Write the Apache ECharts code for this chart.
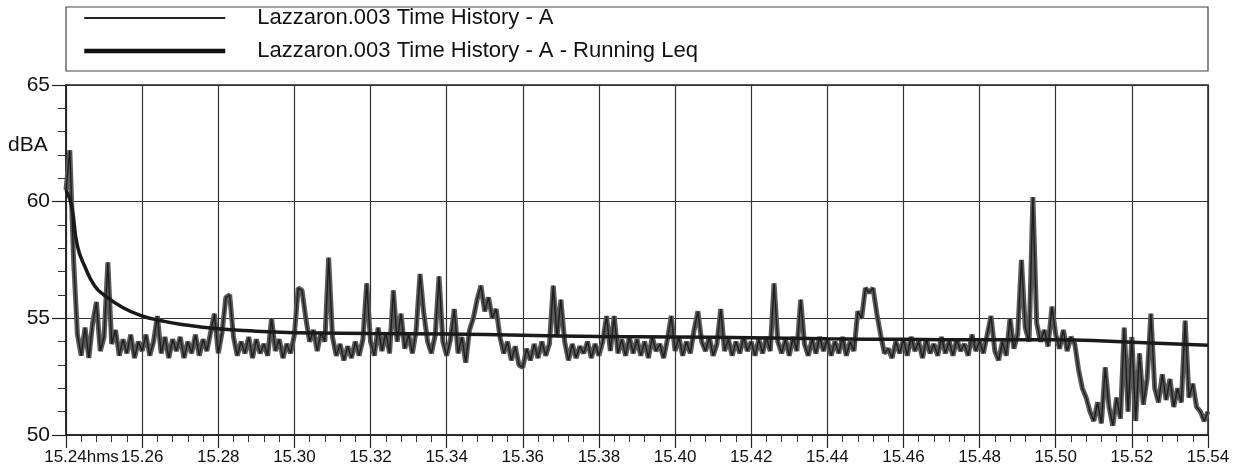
<!DOCTYPE html>
<html>
<head>
<meta charset="utf-8">
<script src="https://cdn.jsdelivr.net/npm/echarts@6/dist/echarts.min.js"></script>
<style>
  html, body { margin: 0; padding: 0; background: #fff; }
  #main { width: 1237px; height: 471px; }
</style>
</head>
<body>
<div id="main"></div>
<script>
// minutes after 15.24, one reading every 0.1 min
var histStep = 0.1;
var histValues = [
  60.5, 62.2, 57.5, 54.3, 53.4, 54.6, 53.3, 54.8, 55.7, 53.6,
  54.2, 57.4, 53.9, 54.5, 53.4, 54.1, 53.5, 54.3, 53.3, 54.0,
  53.6, 54.3, 53.4, 54.0, 55.1, 53.5, 54.2, 53.3, 54.1, 53.6,
  54.2, 53.3, 54.0, 53.5, 54.3, 53.4, 54.1, 53.6, 54.4, 55.2,
  53.5, 54.4, 55.9, 56.0, 54.2, 53.4, 54.0, 53.5, 54.2, 53.3,
  54.1, 53.5, 53.9, 53.4, 55.0, 53.6, 54.1, 53.3, 53.9, 53.5,
  54.3, 56.3, 56.2, 55.0, 54.0, 54.5, 53.6, 54.4, 54.0, 57.6,
  54.2, 53.4, 53.9, 53.2, 53.8, 53.3, 54.0, 53.4, 54.1, 56.5,
  54.0, 53.4, 54.6, 53.6, 54.4, 53.5, 56.2, 54.0, 55.2, 53.7,
  54.3, 53.5, 54.5, 56.9, 55.2, 54.0, 53.5, 54.3, 56.8, 54.0,
  53.4, 54.1, 55.4, 53.5, 54.2, 53.1, 54.5, 55.0, 55.8, 56.4,
  55.3, 55.9, 55.0, 55.4, 54.2, 53.5, 54.0, 53.2, 53.8, 53.0,
  52.9, 53.7, 53.2, 53.9, 53.3, 54.0, 53.4, 53.9, 56.4, 54.2,
  55.8, 54.0, 53.2, 53.9, 53.3, 53.8, 53.5, 54.0, 53.3, 53.9,
  53.4, 54.0, 55.1, 53.6, 55.1, 53.5, 54.1, 53.4, 54.2, 53.5,
  54.1, 53.4, 54.0, 53.3, 54.2, 53.6, 53.9, 53.3, 54.1, 55.1,
  53.6, 54.2, 53.4, 54.0, 53.5, 54.5, 55.3, 54.0, 53.6, 54.2,
  53.4, 53.9, 55.4, 53.6, 54.1, 53.4, 54.0, 53.5, 54.2, 53.6,
  54.0, 53.4, 54.1, 53.5, 54.2, 53.6, 56.5, 54.0, 53.5, 54.1,
  53.4, 54.2, 53.6, 55.8, 53.9, 53.4, 54.1, 53.5, 54.2, 53.6,
  54.1, 53.4, 54.0, 53.5, 54.2, 53.4, 54.0, 53.6, 55.3, 55.0,
  56.3, 56.1, 56.3, 55.2, 54.3, 53.5, 53.7, 53.3, 54.0, 53.5,
  54.1, 53.4, 54.2, 53.6, 54.0, 53.3, 54.1, 53.5, 53.9, 53.4,
  54.2, 53.5, 54.0, 53.4, 54.1, 53.6, 53.9, 53.4, 54.3, 53.6,
  54.0, 53.5, 54.3, 55.1, 53.6, 53.2, 54.0, 53.4, 55.0, 53.7,
  54.3, 57.5, 54.6, 54.0, 60.2, 54.8, 54.0, 54.5, 53.8, 55.5,
  54.3, 53.7, 54.5, 53.6, 54.2, 53.9, 52.8, 52.0, 51.6, 51.0,
  50.6, 51.4, 50.5, 52.9, 51.2, 50.4, 51.6, 50.7, 54.6, 51.0,
  54.2, 50.6, 53.5, 51.3, 52.4, 55.2, 52.0, 51.4, 52.6, 51.5,
  52.4, 51.2, 52.0, 51.4, 54.9, 51.6, 52.2, 51.2, 51.0, 50.6,
  51.0
];

// running Leq, read at a few times (minutes after 15.24)
var leqTimes  = [0, 0.15, 0.3, 0.5, 0.75, 1, 1.5, 2, 2.5, 3, 4, 5, 6, 8, 10, 12, 14, 16, 18, 20, 22, 24, 26, 26.5, 28, 30];
var leqValues = [60.5, 59.8, 58.1, 57.2, 56.4, 56.0, 55.45, 55.1, 54.9, 54.75, 54.55, 54.45, 54.38, 54.35, 54.33, 54.28, 54.22, 54.2, 54.17, 54.12, 54.1, 54.08, 54.08, 54.07, 53.98, 53.85];

var seriesNames = ['Lazzaron.003 Time History - A', 'Lazzaron.003 Time History - A - Running Leq'];
var startHour = 15, startMinute = 24;

var histData = histValues.map(function (v, i) { return [i * histStep, v]; });
var leqData = leqTimes.map(function (t, i) { return [t, leqValues[i]]; });

function timeLabel(v) {
    var m = Math.round(startMinute + v);
    var s = startHour + '.' + (m < 10 ? '0' + m : m);
    // first label carries the unit, the time itself stays centred on the tick
    if (v === 0) return '{pad| }' + s + 'hms';
    return s;
}

var myChart = echarts.init(document.getElementById('main'));
var font = '"Liberation Sans", Arial, sans-serif';

var option = {
    animation: false,
    backgroundColor: '#fff',
    textStyle: { fontFamily: font },
    graphic: [
        {
            type: 'rect',
            shape: { x: 66, y: 7, width: 1142, height: 64 },
            style: { fill: 'none', stroke: '#444', lineWidth: 1.2 },
            z: 1
        },
        {
            type: 'text',
            left: 8,
            top: 135,
            style: { text: 'dBA', font: '21px ' + font, fill: '#111' }
        }
    ],
    legend: {
        orient: 'vertical',
        left: 82,
        top: 7,
        padding: 0,
        itemWidth: 141,
        itemHeight: 14,
        itemGap: 11,
        data: [
            { name: seriesNames[0], lineStyle: { color: '#222', width: 2.2 }, itemStyle: { opacity: 0 } },
            { name: seriesNames[1], lineStyle: { color: '#111', width: 4.5 }, itemStyle: { opacity: 0 } }
        ],
        textStyle: {
            fontSize: 22,
            lineHeight: 22,
            color: '#111',
            padding: [0, 0, 0, 27]
        },
        selectedMode: false
    },
    grid: {
        left: 66,
        right: 29,
        top: 85,
        bottom: 36,
        show: true,
        borderColor: '#222',
        borderWidth: 1.5
    },
    xAxis: {
        type: 'value',
        min: 0,
        max: 30,
        interval: 2,
        axisLine: { lineStyle: { color: '#222', width: 1.5 } },
        axisTick: { length: 13, lineStyle: { color: '#222', width: 1.2 } },
        minorTick: { show: true, splitNumber: 5, length: 7, lineStyle: { color: '#333', width: 1 } },
        splitLine: { show: true, lineStyle: { color: '#333', width: 1.2 } },
        axisLabel: {
            formatter: timeLabel,
            fontSize: 17,
            color: '#111',
            margin: 14,
            hideOverlap: false,
            showMinLabel: true,
            showMaxLabel: true,
            rich: { pad: { width: 31 } }
        }
    },
    yAxis: {
        type: 'value',
        min: 50,
        max: 65,
        interval: 5,
        axisLine: { show: true, lineStyle: { color: '#222', width: 1.5 } },
        axisTick: { show: true, length: 14, lineStyle: { color: '#222', width: 1.2 } },
        minorTick: { show: true, splitNumber: 5, length: 8, lineStyle: { color: '#333', width: 1 } },
        splitLine: { show: true, lineStyle: { color: '#333', width: 1.2 } },
        axisLabel: { fontSize: 21, color: '#111', margin: 16 }
    },
    series: [
        {
            name: seriesNames[0],
            type: 'line',
            data: histData,
            symbol: 'none',
            lineStyle: { color: '#1e1e1e', width: 1.4 },
            itemStyle: { color: '#1e1e1e' },
            z: 4
        },
        {
            // same readings again, wide and grey: gives the dense band look of the plotter trace
            name: seriesNames[0],
            type: 'line',
            data: histData,
            symbol: 'none',
            lineStyle: { color: '#5a5a5a', width: 5 },
            itemStyle: { color: '#5a5a5a' },
            z: 3
        },
        {
            name: seriesNames[1],
            type: 'line',
            data: leqData,
            symbol: 'none',
            smooth: true,
            lineStyle: { color: '#1a1a1a', width: 3.5 },
            itemStyle: { color: '#1a1a1a' },
            z: 5
        }
    ]
};

myChart.setOption(option);
</script>
</body>
</html>
